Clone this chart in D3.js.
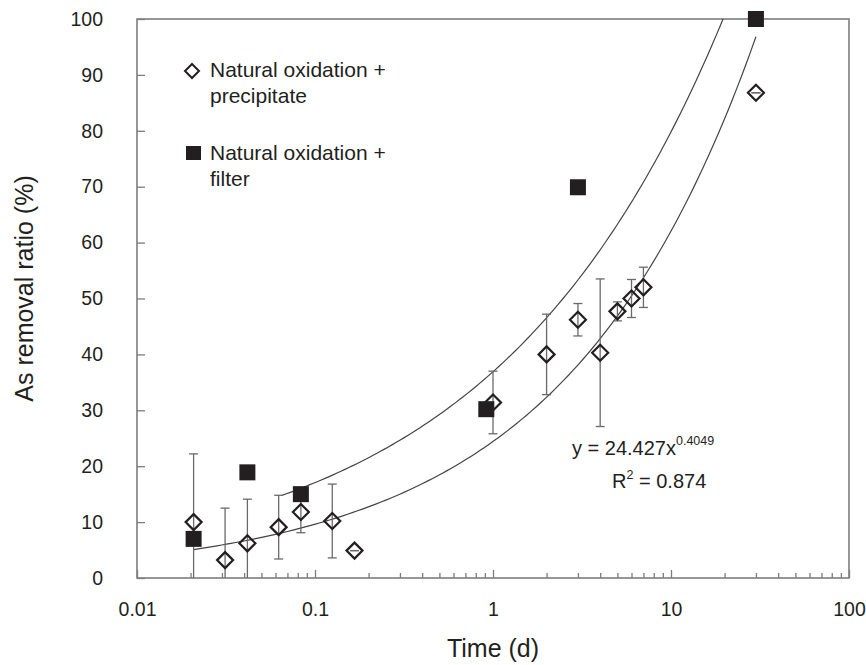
<!DOCTYPE html>
<html>
<head>
<meta charset="utf-8">
<script src="https://cdn.jsdelivr.net/npm/d3@7"></script>
<style>
body { margin: 0; background: #fff; }
text { font-family: "Liberation Sans", Arial, sans-serif; fill: #231f20; }
</style>
</head>
<body>
<svg width="866" height="665"></svg>
<script>
// time in days, removal ratio in %
const precipTime = [0.0208, 0.03125, 0.0417, 0.0625, 0.0833, 0.125, 0.1667, 1, 2, 3, 4, 5, 6, 7, 30];
const precipValue = [10, 3.2, 6.2, 9.1, 11.8, 10.2, 4.9, 31.4, 40, 46.2, 40.3, 47.7, 50, 52, 86.8];
const precipError = [12.2, 9.3, 7.9, 5.7, 3.7, 6.6, 0, 5.6, 7.2, 2.9, 13.2, 1.7, 3.4, 3.6, 0];

const filterTime = [0.0208, 0.0417, 0.0833, 0.917, 3, 30];
const filterValue = [7, 18.9, 15, 30.2, 69.9, 100];

// power trend lines y = a * x^b
const lowerFit = { a: 24.427, b: 0.4049, from: 0.0208, to: 30 };
const upperFit = { a: 36.9, b: 0.335, from: 0.065, to: 30 };

const xMajor = [0.01, 0.1, 1, 10, 100];
const xMinor = [];
[0.01, 0.1, 1, 10].forEach(d => { for (let k = 2; k <= 9; k++) xMinor.push(d * k); });
const yTicks = [0, 10, 20, 30, 40, 50, 60, 70, 80, 90, 100];

var svg = d3.select("svg");
const plotLeft = 137, plotRight = 849, plotTop = 19, plotBottom = 578;

const x = d3.scaleLog().domain([0.01, 100]).range([plotLeft, plotRight]);
const y = d3.scaleLinear().domain([0, 100]).range([plotBottom, plotTop]);

const axisColor = "#7d7d7d";

svg.append("defs").append("clipPath").attr("id", "plot")
	.append("rect")
	.attr("x", plotLeft).attr("y", plotTop)
	.attr("width", plotRight - plotLeft).attr("height", plotBottom - plotTop);

// minor x ticks
svg.append("g")
	.attr("transform", `translate(0,${plotBottom})`)
	.call(d3.axisBottom(x).tickValues(xMinor).tickSizeInner(-5).tickSizeOuter(0).tickFormat(""))
	.call(g => g.select(".domain").remove())
	.call(g => g.selectAll("line").attr("stroke", axisColor).attr("stroke-width", 1.3));

// major x ticks
svg.append("g")
	.attr("transform", `translate(0,${plotBottom})`)
	.call(d3.axisBottom(x).tickValues(xMajor).tickSizeInner(-8).tickSizeOuter(0).tickPadding(24)
		.tickFormat(d => d3.format("~g")(d)))
	.call(g => g.select(".domain").remove())
	.call(g => g.selectAll("line").attr("stroke", axisColor).attr("stroke-width", 1.3))
	.call(g => g.selectAll("text").attr("font-size", "19.5px").attr("fill", "#231f20"));

svg.append("g")
	.attr("transform", `translate(${plotLeft},0)`)
	.call(d3.axisLeft(y).tickValues(yTicks).tickSizeInner(-8).tickSizeOuter(0).tickPadding(34))
	.call(g => g.select(".domain").remove())
	.call(g => g.selectAll("line").attr("stroke", axisColor).attr("stroke-width", 1.3))
	.call(g => g.selectAll("text").attr("font-size", "19.5px").attr("fill", "#231f20"));

// frame
svg.append("rect")
	.attr("x", plotLeft).attr("y", plotTop)
	.attr("width", plotRight - plotLeft).attr("height", plotBottom - plotTop)
	.attr("fill", "none")
	.attr("stroke", axisColor)
	.attr("stroke-width", 1.6);

// axis titles
svg.append("text")
	.attr("x", x(1)).attr("y", 657)
	.attr("text-anchor", "middle")
	.attr("font-size", "25px")
	.text("Time (d)");

svg.append("text")
	.attr("transform", `translate(33,${(plotTop + plotBottom) / 2 - 10}) rotate(-90)`)
	.attr("text-anchor", "middle")
	.attr("font-size", "25px")
	.text("As removal ratio (%)");

// trend lines
function fitPoints(f) {
	const pts = [];
	const n = 120;
	for (let i = 0; i <= n; i++) {
		const t = Math.exp(Math.log(f.from) + (Math.log(f.to) - Math.log(f.from)) * i / n);
		pts.push([t, f.a * Math.pow(t, f.b)]);
	}
	return pts;
}
const line = d3.line().x(d => x(d[0])).y(d => y(d[1]));

svg.append("g")
	.attr("clip-path", "url(#plot)")
	.selectAll("path")
	.data([lowerFit, upperFit])
	.join("path")
	.attr("d", d => line(fitPoints(d)))
	.attr("fill", "none")
	.attr("stroke", "#444")
	.attr("stroke-width", 1.2);

// error bars
const precip = precipTime.map((t, i) => ({ t: t, v: precipValue[i], e: precipError[i] }));
const errG = svg.append("g").attr("stroke", "#6a6a6a").attr("stroke-width", 1.3);
precip.forEach(d => {
	const lo = Math.max(0, d.v - d.e), hi = d.v + d.e;
	errG.append("line")
		.attr("x1", x(d.t)).attr("x2", x(d.t))
		.attr("y1", y(lo)).attr("y2", y(hi));
	errG.append("line")
		.attr("x1", x(d.t) - 4.5).attr("x2", x(d.t) + 4.5)
		.attr("y1", y(hi)).attr("y2", y(hi));
	if (d.v - d.e > 0 || d.e == 0) {
		errG.append("line")
			.attr("x1", x(d.t) - 4.5).attr("x2", x(d.t) + 4.5)
			.attr("y1", y(lo)).attr("y2", y(lo));
	}
});

// diamonds
const diamond = "M0,-8L8,0L0,8L-8,0Z";
svg.append("g")
	.selectAll("path")
	.data(precip)
	.join("path")
	.attr("d", diamond)
	.attr("transform", d => `translate(${x(d.t)},${y(d.v)})`)
	.attr("fill", "none")
	.attr("stroke", "#231f20")
	.attr("stroke-width", 2.2);

// squares
svg.append("g")
	.selectAll("rect")
	.data(filterTime.map((t, i) => ({ t: t, v: filterValue[i] })))
	.join("rect")
	.attr("x", d => x(d.t) - 8)
	.attr("y", d => y(d.v) - 8)
	.attr("width", 16)
	.attr("height", 16)
	.attr("fill", "#231f20");

// legend
svg.append("path")
	.attr("d", "M0,-7L7,0L0,7L-7,0Z")
	.attr("transform", "translate(192,71)")
	.attr("fill", "none")
	.attr("stroke", "#231f20")
	.attr("stroke-width", 2);
svg.append("rect")
	.attr("x", 186).attr("y", 146)
	.attr("width", 15).attr("height", 14)
	.attr("fill", "#231f20");

const legendText = [
	["Natural oxidation +", "precipitate", 77],
	["Natural oxidation +", "filter", 160]
];
legendText.forEach(l => {
	const t = svg.append("text").attr("x", 210).attr("y", l[2]).attr("font-size", "21px");
	t.append("tspan").attr("x", 210).text(l[0]);
	t.append("tspan").attr("x", 210).attr("dy", 26).text(l[1]);
});

// equation
const eq = svg.append("text").attr("x", 572).attr("y", 455).attr("font-size", "20px");
eq.append("tspan").text("y = 24.427x");
eq.append("tspan").attr("dy", -10).attr("font-size", "12.5px").text("0.4049");

const r2 = svg.append("text").attr("x", 612).attr("y", 488).attr("font-size", "20px");
r2.append("tspan").text("R");
r2.append("tspan").attr("dy", -9).attr("font-size", "12.5px").text("2");
r2.append("tspan").attr("dy", 9).text(" = 0.874");
</script>
</body>
</html>
